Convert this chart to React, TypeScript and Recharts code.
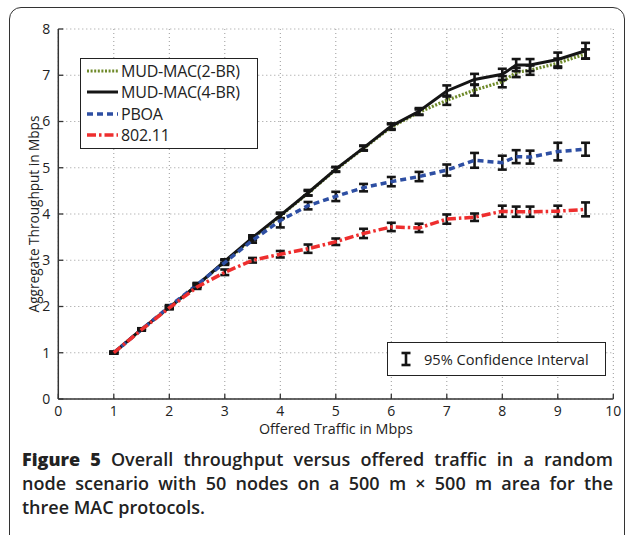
import React from "react";
import {
  CartesianGrid,
  ErrorBar,
  Line,
  LineChart,
  XAxis,
  YAxis
} from "recharts";

const FONT = "'Open Sans', 'DejaVu Sans', sans-serif";

const offered = [1, 1.5, 2, 2.5, 3, 3.5, 4, 4.5, 5, 5.5, 6, 6.5, 7, 7.5, 8, 8.25, 8.5, 9, 9.5];

const mud2 = [1.0, 1.5, 1.98, 2.46, 2.97, 3.47, 3.96, 4.45, 4.96, 5.42, 5.88, 6.2, 6.46, 6.68, 6.86, 7.06, 7.11, 7.26, 7.46];
const mud2Err = [0.02, 0.02, 0.03, 0.03, 0.04, 0.04, 0.05, 0.05, 0.05, 0.05, 0.06, 0.06, 0.1, 0.12, 0.12, 0.1, 0.1, 0.1, 0.1];

const mud4 = [1.0, 1.51, 1.98, 2.46, 2.98, 3.49, 3.97, 4.46, 4.97, 5.43, 5.9, 6.22, 6.66, 6.91, 7.02, 7.22, 7.22, 7.34, 7.53];
const mud4Err = [0.02, 0.02, 0.03, 0.04, 0.04, 0.05, 0.06, 0.06, 0.05, 0.05, 0.06, 0.07, 0.12, 0.12, 0.12, 0.13, 0.13, 0.15, 0.17];

const pboa = [1.0, 1.5, 2.0, 2.47, 2.95, 3.43, 3.86, 4.18, 4.38, 4.57, 4.7, 4.81, 4.95, 5.16, 5.11, 5.24, 5.23, 5.35, 5.4];
const pboaErr = [0.02, 0.02, 0.03, 0.04, 0.05, 0.05, 0.15, 0.08, 0.1, 0.08, 0.1, 0.1, 0.12, 0.16, 0.15, 0.14, 0.14, 0.19, 0.14];

const ieee = [1.0, 1.5, 1.97, 2.42, 2.74, 3.0, 3.13, 3.25, 3.4, 3.58, 3.72, 3.7, 3.89, 3.93, 4.06, 4.05, 4.05, 4.06, 4.1];
const ieeeErr = [0.02, 0.02, 0.03, 0.04, 0.06, 0.05, 0.07, 0.09, 0.07, 0.1, 0.09, 0.09, 0.1, 0.08, 0.12, 0.11, 0.11, 0.12, 0.15];

const xTicks = [0, 1, 2, 3, 4, 5, 6, 7, 8, 9, 10];
const yTicks = [0, 1, 2, 3, 4, 5, 6, 7, 8];

const series = [
  { key: "mud2", name: "MUD-MAC(2-BR)", color: "#6f8a2a", dash: "2 1.6", width: 3.2 },
  { key: "mud4", name: "MUD-MAC(4-BR)", color: "#151515", dash: undefined, width: 3 },
  { key: "pboa", name: "PBOA", color: "#2e4fa3", dash: "6 4", width: 3.5 },
  { key: "ieee", name: "802.11", color: "#ee2e2e", dash: "9 3 2.5 3", width: 3.5 }
];

const rows = offered.map((x, i) => ({
  x,
  mud2: mud2[i],
  mud2Err: mud2Err[i],
  mud4: mud4[i],
  mud4Err: mud4Err[i],
  pboa: pboa[i],
  pboaErr: pboaErr[i],
  ieee: ieee[i],
  ieeeErr: ieeeErr[i]
}));

function LegendBox() {
  return (
    <div
      style={{
        position: "absolute",
        left: 80,
        top: 58,
        border: "1.3px solid #222",
        background: "#fff",
        width: 176,
        padding: "1px 0 2px 0",
        fontFamily: FONT,
        fontSize: 16,
        color: "#222"
      }}
    >
      {series.map((s) => (
        <div key={s.key} style={{ display: "flex", alignItems: "center", height: 21.5 }}>
          <svg width={40} height={10} style={{ flex: "none" }}>
            <line x1={6} y1={5} x2={37} y2={5} stroke={s.color} strokeWidth={s.width} strokeDasharray={s.dash} />
          </svg>
          <span style={{ letterSpacing: -0.2 }}>{s.name}</span>
        </div>
      ))}
    </div>
  );
}

function YLabel({ viewBox }: any) {
  const cy = viewBox.y + viewBox.height / 2;
  return (
    <text
      x={33}
      y={cy}
      transform={`rotate(-90, 33, ${cy})`}
      textAnchor="middle"
      dominantBaseline="central"
      fontFamily={FONT}
      fontSize={13.6}
      fill="#222"
    >
      Aggregate Throughput in Mbps
    </text>
  );
}

function XLabel({ viewBox }: any) {
  const cx = viewBox.x + viewBox.width / 2;
  return (
    <text x={cx} y={428} textAnchor="middle" dominantBaseline="central" fontFamily={FONT} fontSize={14.3} fill="#222">
      Offered Traffic in Mbps
    </text>
  );
}

export default function App() {
  const tickStyle = { fontFamily: FONT, fontSize: 14, fill: "#222" };
  return (
    <div style={{ position: "absolute", left: 0, top: 0, width: 627, height: 535, overflow: "hidden", background: "#fff" }}>
      <div
        style={{
          position: "absolute",
          left: 9,
          top: 7,
          width: 614,
          height: 560,
          border: "1.4px solid #333",
          borderRadius: 12
        }}
      />
      <div style={{ position: "absolute", left: 0, top: 0 }}>
        <LineChart width={627} height={440} data={rows} margin={{ top: 29, right: 13.7, left: 0, bottom: 0 }}>
          <CartesianGrid stroke="#999" strokeDasharray="1 3" strokeWidth={1} />
          <XAxis
            dataKey="x"
            type="number"
            domain={[0, 10]}
            ticks={xTicks}
            height={41}
            tickSize={-5}
            tickMargin={12.5}
            tick={tickStyle}
            axisLine={{ stroke: "#333", strokeWidth: 1.5 }}
            tickLine={{ stroke: "#333", strokeWidth: 1.3 }}
            label={<XLabel />}
            interval={0}
          />
          <YAxis
            type="number"
            domain={[0, 8]}
            ticks={yTicks}
            width={58.3}
            tickSize={-5}
            tickMargin={13}
            tick={tickStyle}
            axisLine={{ stroke: "#333", strokeWidth: 1.5 }}
            tickLine={{ stroke: "#333", strokeWidth: 1.3 }}
            label={<YLabel />}
            interval={0}
          />
          {series.map((s) => (
            <Line
              key={s.key}
              dataKey={s.key}
              name={s.name}
              type="linear"
              stroke={s.color}
              strokeWidth={s.width}
              strokeDasharray={s.dash}
              dot={false}
              activeDot={false}
              isAnimationActive={false}
            >
              <ErrorBar
                dataKey={`${s.key}Err`}
                direction="y"
                width={4.5}
                stroke="#151515"
                strokeWidth={2.6}
                isAnimationActive={false}
              />
            </Line>
          ))}
        </LineChart>
      </div>
      <LegendBox />
      <div
        style={{
          position: "absolute",
          left: 387,
          top: 342,
          width: 217,
          height: 32,
          border: "1.3px solid #222",
          background: "#fff",
          display: "flex",
          alignItems: "center",
          fontFamily: FONT,
          fontSize: 14.6,
          color: "#222"
        }}
      >
        <svg width={36} height={20} style={{ flex: "none" }}>
          <line x1={18} y1={4} x2={18} y2={16} stroke="#151515" strokeWidth={2.6} />
          <line x1={13.5} y1={4} x2={22.5} y2={4} stroke="#151515" strokeWidth={2.6} />
          <line x1={13.5} y1={16} x2={22.5} y2={16} stroke="#151515" strokeWidth={2.6} />
        </svg>
        <span>95% Confidence Interval</span>
      </div>
      <div
        style={{
          position: "absolute",
          left: 22,
          top: 447,
          width: 591,
          fontFamily: FONT,
          fontSize: 18,
          fontWeight: 600,
          lineHeight: "24px",
          color: "#222"
        }}
      >
        <div style={{ textAlign: "justify", textAlignLast: "justify", whiteSpace: "nowrap" }}>
          <span style={{ fontWeight: 800 }}>Figure 5</span> Overall throughput versus offered traffic in a random
        </div>
        <div style={{ textAlign: "justify", textAlignLast: "justify", whiteSpace: "nowrap" }}>
          node scenario with 50 nodes on a 500 m × 500 m area for the
        </div>
        <div>three MAC protocols.</div>
      </div>
    </div>
  );
}
